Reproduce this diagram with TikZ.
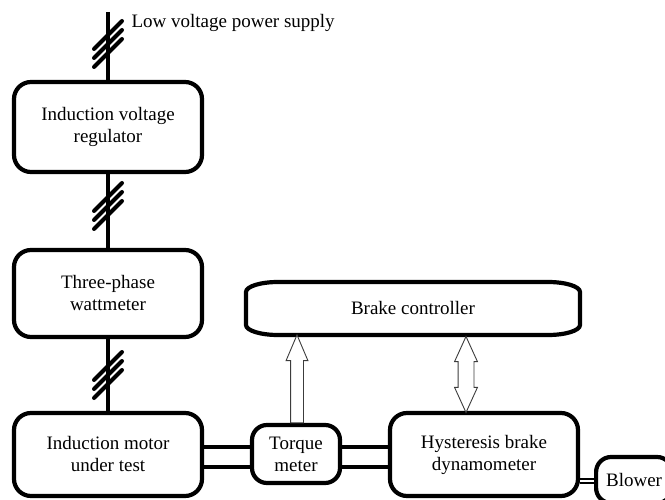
\documentclass[tikz,border=0pt]{standalone}
\usepackage{fontspec}
\setmainfont{Liberation Serif}
\usetikzlibrary{calc,shapes.arrows}
\definecolor{ArrowGray}{RGB}{60,60,60}

\tikzset{
  block/.style={draw, line width=4.2pt, rounded corners=17pt, align=center, inner sep=0pt},
  wire/.style={line width=4pt},
  slash/.style={line width=4pt, line cap=round},
  shaft/.style={line width=4.2pt},
  thinshaft/.style={line width=1.3pt},
  hollow/.style={draw=ArrowGray, fill=white, line width=0.9pt, inner xsep=0pt, outer sep=0pt}
}

\begin{document}
\begin{tikzpicture}[x=1pt, y=1pt, font=\fontsize{19}{22}\selectfont]

  \useasboundingbox (0,0) rectangle (665,499);

  % --- Blocks ---
  \node[block, minimum width=188pt, minimum height=90pt] (ivr)    at (108,372)   {Induction voltage\\regulator};
  \node[block, minimum width=188pt, minimum height=87pt] (watt)   at (108,205.5) {Three-phase\\wattmeter};
  \node[block, minimum width=188pt, minimum height=83pt] (motor)  at (108,44.5)  {Induction motor\\under test};
  \node[block, minimum width=88pt,  minimum height=58pt, rounded corners=15pt] (torque) at (296,45) {Torque\\meter};
  \node[block, minimum width=188pt, minimum height=83pt] (hyst)   at (484,44.5)  {Hysteresis brake\\dynamometer};
  \node[block, minimum height=46pt, inner xsep=10pt, rounded corners=15pt, anchor=west] (blower) at (594,19) {Blower};

  % --- Brake controller (flattened ends) ---
  \node[minimum width=334pt, minimum height=53pt, inner sep=0pt, outer sep=0pt] (ctrl) at (413,190.5) {Brake controller};
  \draw[line width=4.2pt]
    ([xshift=32pt]ctrl.north west) -- ([xshift=-32pt]ctrl.north east)
    arc[start angle=90, end angle=0, x radius=32pt, y radius=10pt]
    -- ([yshift=10pt]ctrl.south east)
    arc[start angle=0, end angle=-90, x radius=32pt, y radius=10pt]
    -- ([xshift=32pt]ctrl.south west)
    arc[start angle=270, end angle=180, x radius=32pt, y radius=10pt]
    -- ([yshift=-10pt]ctrl.north west)
    arc[start angle=180, end angle=90, x radius=32pt, y radius=10pt]
    -- cycle;

  % --- Supply wiring ---
  \coordinate (supply) at (108,487);
  \node[anchor=base west] (supplylabel) at (128,471) {Low voltage power supply};
  \draw[wire] (supply) -- (ivr);
  \draw[wire] (ivr) -- (watt);
  \draw[wire] (watt) -- (motor);

  % --- Three-phase marks ---
  \foreach \yc in {455,293,124} {
    \foreach \dy in {-9,0,9} {
      \draw[slash] (94,\yc+\dy-14) -- (122,\yc+\dy+14);
    }
  }

  % --- Shafts ---
  \draw[shaft] (motor.east |- 0,52) -- (torque.west |- 0,52);
  \draw[shaft] (motor.east |- 0,32) -- (torque.west |- 0,32);
  \draw[shaft] (torque.east |- 0,52) -- (hyst.west |- 0,52);
  \draw[shaft] (torque.east |- 0,32) -- (hyst.west |- 0,32);
  \draw[thinshaft] (hyst.east |- 0,20) -- (blower.west |- 0,20);
  \draw[thinshaft] (hyst.east |- 0,16) -- (blower.west |- 0,16);

  % --- Signal arrows ---
  \node[hollow, single arrow, rotate=90, anchor=tail, inner ysep=6pt, minimum height=88pt, minimum width=21pt,
        single arrow head extend=4.5pt, single arrow tip angle=46]
        (measure) at ([xshift=1pt]torque.north) {};
  \node[hollow, double arrow, rotate=90, inner ysep=7.5pt, minimum height=76pt, minimum width=22pt,
        double arrow head extend=3.5pt, double arrow tip angle=49]
        (control) at (466,124.5) {};

\end{tikzpicture}
\end{document}
